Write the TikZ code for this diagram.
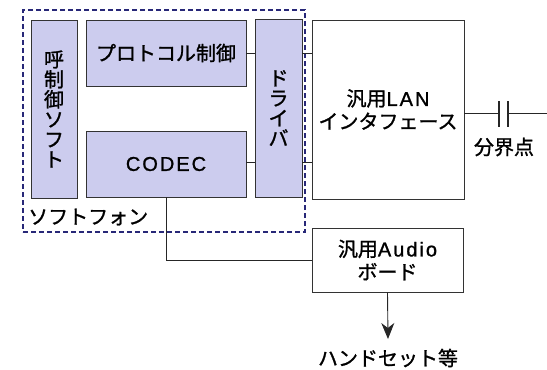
\documentclass[tikz,border=0pt]{standalone}
\usepackage{fontspec}
\setmainfont{Noto Sans CJK JP}[FakeBold=1.2]
\newfontfamily\lat{Liberation Sans}[LetterSpace=10,FakeBold=1.2]
\usetikzlibrary{arrows.meta}
\definecolor{lav}{RGB}{204,204,238}
\definecolor{navy}{RGB}{40,40,120}
\begin{document}
\begin{tikzpicture}[x=1pt,y=-1pt,
  box/.style={draw=black!80,line width=0.9pt,inner sep=0pt,font=\fontsize{20}{21}\selectfont,align=center},
  lbox/.style={box,fill=lav},
  wire/.style={draw=black!85,line width=0.9pt},
  lbl/.style={inner sep=0pt,font=\fontsize{20}{21}\selectfont,align=center}]
\useasboundingbox (0,0) rectangle (547,370);
% dashed software-phone frame
\node[draw=navy,line width=1.7pt,dash pattern=on 5pt off 3pt,minimum width=282pt,minimum height=222pt,inner sep=0pt] (sp) at (164,121) {};
\node[lbox,minimum width=46pt,minimum height=178pt,font=\fontsize{20}{20}\selectfont] (yobi) at (54,109) {呼\\制\\御\\ソ\\フ\\ト};
\node[lbox,minimum width=160pt,minimum height=66pt] (proto) at (166,53) {プロトコル制御};
\node[lbox,minimum width=160pt,minimum height=66pt] (codec) at (166,164) {\lat CODEC};
\node[lbox,minimum width=47pt,minimum height=178pt,font=\fontsize{20}{20}\selectfont] (drv) at (278.5,108) {ド\\ラ\\イ\\バ};
\node[box,fill=white,minimum width=152pt,minimum height=179pt,font=\fontsize{20}{23}\selectfont] (lan) at (388,109.5) {汎用{\lat LAN}\\インタフェース};
\node[box,fill=white,minimum width=151pt,minimum height=64pt,font=\fontsize{20}{23}\selectfont] (audio) at (387.5,260) {汎用{\lat Audio}\\ボード};
\node[lbl,anchor=west] (sflbl) at (28,217) {ソフトフォン};
\node[lbl] (bkp) at (504,147) {分界点};
\node[lbl] (hs) at (388,358) {ハンドセット等};
\coordinate (arrowend) at (388,339);
% connectors
\draw[wire] (proto.east) -- (drv.west |- proto.east);
\draw[wire] ([yshift=2pt]codec.east) -- ([yshift=2pt]drv.west |- codec.east);
\draw[wire] (drv.east |- proto.east) -- (lan.west |- proto.east);
\draw[wire] ([yshift=2pt]drv.east |- codec.east) -- ([yshift=2pt]lan.west |- codec.east);
\draw[wire] (codec.south) |- (audio.west);
\draw[wire,-{Stealth[length=16pt,width=13pt,inset=5pt]}] (audio.south) -- (arrowend);
% demarcation point (capacitor symbol)
\coordinate (p1) at (499,113);
\coordinate (p2) at (508,113);
\coordinate (pend) at (547,113);
\draw[wire] (lan.east |- p1) -- (p1);
\draw[wire] (p2) -- (pend);
\draw[line width=1.4pt,draw=black!85] ([yshift=12pt]p1) -- ([yshift=-14pt]p1);
\draw[line width=1.4pt,draw=black!85] ([yshift=12pt]p2) -- ([yshift=-14pt]p2);
\end{tikzpicture}
\end{document}
